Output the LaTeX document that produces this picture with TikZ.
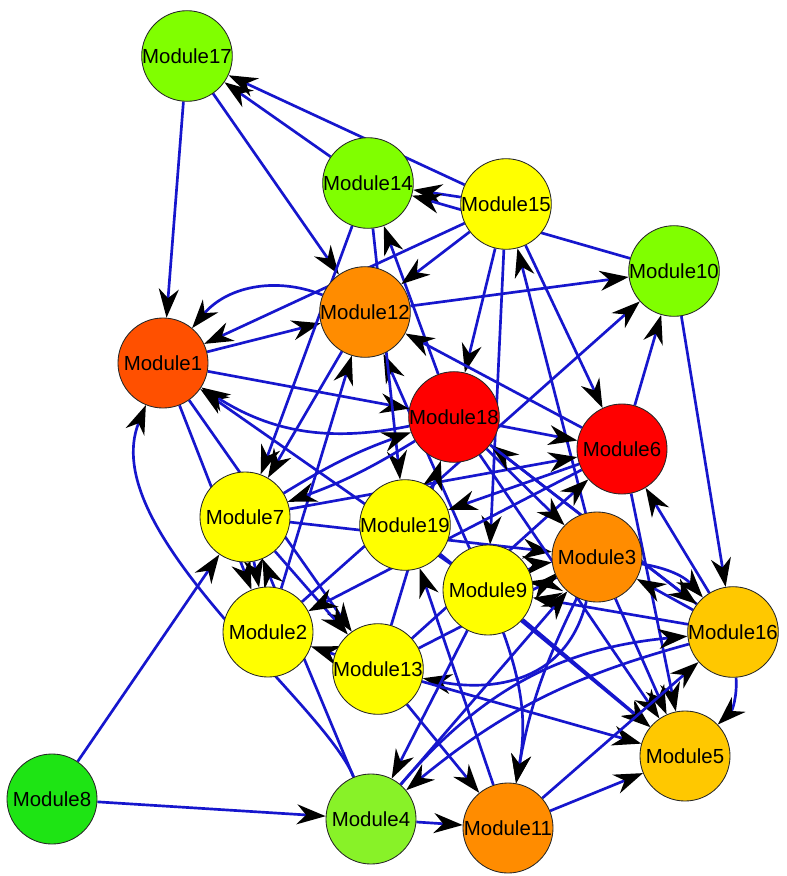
\documentclass[tikz,border=0pt]{standalone}
\usepackage{fontspec}
\setmainfont{Liberation Sans}
\usetikzlibrary{arrows.meta}
\definecolor{edgeblue}{RGB}{22,22,205}
\definecolor{cgreen}{RGB}{128,255,0}
\definecolor{cgreenb}{RGB}{136,242,40}
\definecolor{cgreen8}{RGB}{30,228,20}
\definecolor{cyellow}{RGB}{255,255,0}
\definecolor{corange}{RGB}{255,140,0}
\definecolor{cred}{RGB}{255,0,0}
\definecolor{credor}{RGB}{255,80,0}
\definecolor{cgold}{RGB}{255,200,0}
\pgfdeclarelayer{edgelayer}
\pgfsetlayers{edgelayer,main}
\begin{document}
\begin{tikzpicture}[x=0.025cm,y=-0.025cm,
  mod/.style={circle,draw=black!85,line width=0.6pt,minimum size=2.25cm,inner sep=0pt,font=\fontsize{14.5}{16}\selectfont},
  edge/.style={draw=edgeblue,line width=1.9pt,-{Stealth[black,length=7.2mm,width=5mm,inset=2.3mm]}}]
\begin{pgfonlayer}{edgelayer}
\fill[white] (0,0) rectangle (787,876);
\end{pgfonlayer}
\useasboundingbox (0,0) rectangle (787,876);

\node[mod,fill=credor]  (m1)  at (163,363) {Module1};
\node[mod,fill=cyellow] (m2)  at (268,632) {Module2};
\node[mod,fill=corange] (m3)  at (597,557) {Module3};
\node[mod,fill=cgreenb] (m4)  at (371,819) {Module4};
\node[mod,fill=cgold]   (m5)  at (685,756) {Module5};
\node[mod,fill=cred]    (m6)  at (622,449) {Module6};
\node[mod,fill=cyellow] (m7)  at (245,517) {Module7};
\node[mod,fill=cgreen8] (m8)  at (52,799)  {Module8};
\node[mod,fill=cyellow] (m9)  at (488,590) {Module9};
\node[mod,fill=cgreen]  (m10) at (674,271) {Module10};
\node[mod,fill=corange] (m11) at (508,828) {Module11};
\node[mod,fill=corange] (m12) at (365,312) {Module12};
\node[mod,fill=cyellow] (m13) at (378,669) {Module13};
\node[mod,fill=cgreen]  (m14) at (368,183) {Module14};
\node[mod,fill=cyellow] (m15) at (506,204) {Module15};
\node[mod,fill=cgold]   (m16) at (733,632) {Module16};
\node[mod,fill=cgreen]  (m17) at (187,56)  {Module17};
\node[mod,fill=cred]    (m18) at (454,417) {Module18};
\node[mod,fill=cyellow] (m19) at (405,525) {Module19};

\begin{pgfonlayer}{edgelayer}
% top area
\draw[edge] (m17) -- (m1);
\draw[edge] (m17) -- (m12);
\draw[edge] (m14) -- (m17);
\draw[edge] (m15) -- (m17);
\draw[edge] (m15) -- (m14);
\draw[edge] (m18) -- (m14);
\draw[edge] (m15) -- (m12);
\draw[edge] (m15) -- (m18);
\draw[edge] (m3) -- (m15);
\draw[edge] (m15) -- (m6);
\draw[edge] (m15) -- (m1);
\draw[edge] (m15) -- (m9);
\draw[edge] (m12) -- (m10);
\draw[edge] (m2) -- (m10);
\draw[edge] (m6) -- (m10);
\draw[edge] (m10) -- (m16);
\draw[edge] (m10) -- (m14);
% module1 / module12
\draw[edge] (m1) -- (m12);
\draw[edge] (m2) -- (m12);
\draw[edge] (m9) -- (m12);
\draw[edge] (m6) -- (m12);
\draw[edge] (m12) to[bend right=36] (m1);
\draw[edge] (m9) -- (m1);
\draw[edge] (m18) to[bend left=22] (m1);
\draw[edge] (m1) -- (m18);
\draw[edge] (m4) .. controls (322,700) and (95,530) .. (m1);
\draw[edge] (m1) -- (m2);
\draw[edge] (m1) -- (m13);
% module7
\draw[edge] (m14) -- (m7);
\draw[edge] (m12) -- (m7);
\draw[edge] (m14) -- (m19);
\draw[edge] (m7) to[bend left=6] (m18);
\draw[edge] (m18) to[bend left=6] (m7);
\draw[edge] (m7) -- (m6);
\draw[edge] (m7) -- (m3);
\draw[edge] (m7) -- (m13);
\draw[edge] (m8) -- (m7);
\draw[edge] (m8) -- (m4);
\draw[edge] (m4) -- (m7);
\draw[edge] (m7) -- (m2);
% center
\draw[edge] (m6) -- (m19);
\draw[edge] (m6) -- (m2);
\draw[edge] (m11) -- (m19);
\draw[edge] (m3) to[bend left=10] (m9);
\draw[edge] (m9) to[bend left=10] (m3);
\draw[edge] (m13) -- (m3);
\draw[edge] (m3) .. controls (565,690) and (480,690) .. (m13);
\draw[edge] (m18) -- (m6);
\draw[edge] (m16) -- (m6);
\draw[edge] (m13) -- (m6);
\draw[edge] (m18) -- (m3);
\draw[edge] (m16) -- (m18);
\draw[edge] (m13) -- (m18);
% module5
\draw[edge] (m19) -- (m5);
\draw[edge] (m9) -- (m5);
\draw[edge] (m3) -- (m5);
\draw[edge] (m6) -- (m5);
\draw[edge] (m18) -- (m5);
\draw[edge] (m13) -- (m5);
\draw[edge] (m11) -- (m5);
\draw[edge] (m16) to[bend left=25] (m5);
% module16
\draw[edge] (m11) -- (m16);
\draw[edge] (m16) -- (m3);
\draw[edge] (m3) to[bend left=20] (m16);
\draw[edge] (m18) -- (m16);
\draw[edge] (m16) -- (m9);
\draw[edge] (m16) to[bend right=12] (m4);
\draw[edge] (m4) to[bend left=22] (m16);
% bottom
\draw[edge] (m9) -- (m4);
\draw[edge] (m4) -- (m3);
\draw[edge] (m4) -- (m11);
\draw[edge] (m13) -- (m11);
\draw[edge] (m9) to[bend left=15] (m11);
\draw[edge] (m3) to[bend right=8] (m11);
\draw[edge] (m13) -- (m2);
\end{pgfonlayer}
\end{tikzpicture}
\end{document}
